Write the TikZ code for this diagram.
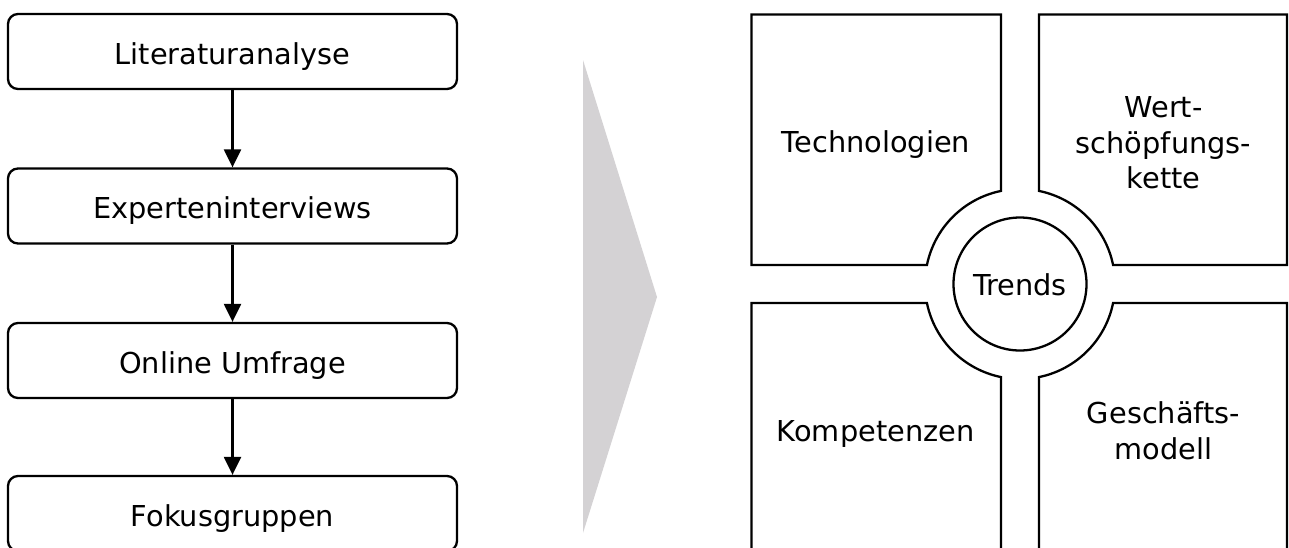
\documentclass[tikz,border=0pt]{standalone}
\usepackage{fontspec}
\setmainfont{DejaVu Sans}
\usetikzlibrary{arrows.meta}
\definecolor{chevgray}{RGB}{212,210,212}
\begin{document}
\begin{tikzpicture}[x=1pt,y=-1pt,
  every node/.style={font=\fontsize{28.8}{35.5}\selectfont, inner sep=0pt},
  stepbox/.style={draw, line width=2.3pt, rounded corners=10pt, minimum width=449pt, minimum height=75pt, text height=25pt, text depth=0pt},
  flow/.style={line width=2.3pt, -{Triangle[width=17pt,length=18pt]}},
  quad/.style={draw, line width=2.3pt},
  single/.style={text height=25.6pt, text depth=0pt},
  multi/.style={align=center},
  hub/.style={draw, circle, line width=2.3pt, minimum size=133pt, text height=22pt, text depth=0pt},
]
\useasboundingbox (0,0) rectangle (1289,547);
\clip (0,0) rectangle (1289,547);

% left flow
\node[stepbox] (b1) at (232.5,51.5) {Literaturanalyse};
\node[stepbox] (b2) at (232.5,206) {Experteninterviews};
\node[stepbox] (b3) at (232.5,360.5) {Online Umfrage};
\node[stepbox] (b4) at (232.5,513.5) {Fokusgruppen};
\draw[flow] (b1) -- (b2);
\draw[flow] (b2) -- (b3);
\draw[flow] (b3) -- (b4);

% gray chevron
\fill[chevgray] (583,60) -- (657,297) -- (583,533) -- cycle;

% four quadrants
\draw[quad] (751.5,14.5) -- (1001,14.5) -- (1001,190.92)
  arc[start angle=258.46, end angle=191.54, radius=95] -- (751.5,265) -- cycle;
\draw[quad] (1039,14.5) -- (1287,14.5) -- (1287,265) -- (1113.08,265)
  arc[start angle=348.46, end angle=281.54, radius=95] -- cycle;
\draw[quad] (751.5,303) -- (926.92,303)
  arc[start angle=168.46, end angle=101.54, radius=95] -- (1001,600) -- (751.5,600) -- cycle;
\draw[quad] (1039,600) -- (1039,377.08)
  arc[start angle=78.46, end angle=11.54, radius=95] -- (1287,303) -- (1287,600) -- cycle;

\node[hub] (trends) at (1020,284) {Trends};
\node[single] (tech) at (876,139.5) {Technologien};
\node[multi] (wert) at (1163.5,142.8) {Wert-\\schöpfungs-\\kette};
\node[single] (komp) at (875.6,428.7) {Kompetenzen};
\node[multi] (gesch) at (1163.5,430.6) {Geschäfts-\\modell};
\end{tikzpicture}
\end{document}
